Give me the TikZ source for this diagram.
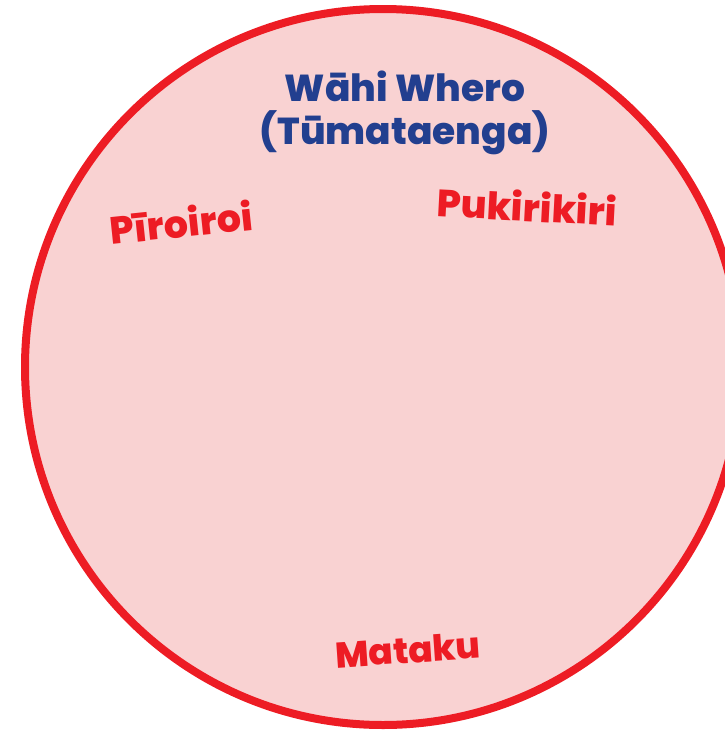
\documentclass[tikz,border=0pt]{standalone}
\usepackage{fontspec}
\setmainfont{Poppins}[BoldFont={* ExtraBold}]
\definecolor{ringred}{HTML}{ED1C24}
\definecolor{ringfill}{HTML}{F9D2D2}
\definecolor{navy}{HTML}{223F8F}
\begin{document}
\begin{tikzpicture}[x=1pt,y=-1pt,
  redlabel/.style={text=ringred,font=\bfseries\fontsize{38}{40}\selectfont,inner sep=0pt},
  bluelabel/.style={text=navy,font=\bfseries\fontsize{37.5}{43}\selectfont,inner sep=0pt,align=center}]
\useasboundingbox (0,0) rectangle (725,731);
\begin{scope}
\clip (0,0) rectangle (725,731);
\node[circle,draw=ringred,fill=ringfill,line width=8pt,minimum size=716pt,inner sep=0pt] (ring) at (383,367) {};
\end{scope}
\node[bluelabel] (title) at (405,113) {Wāhi Whero\\(Tūmataenga)};
\node[redlabel,rotate=6] (piro) at (181,222) {Pīroiroi};
\node[redlabel,rotate=-3] (puki) at (527,206) {Pukirikiri};
\node[redlabel,rotate=4,font=\bfseries\fontsize{36}{40}\selectfont] (mata) at (408,650) {Mataku};
\end{tikzpicture}
\end{document}
